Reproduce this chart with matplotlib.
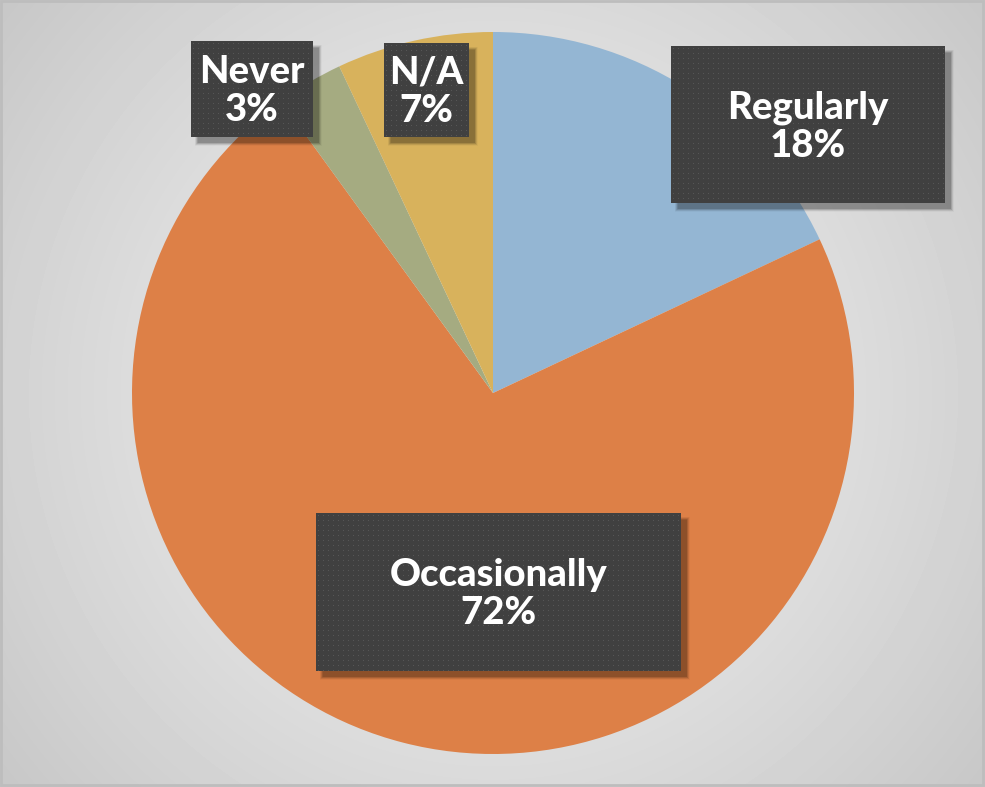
import matplotlib
matplotlib.use("Agg")
import matplotlib.pyplot as plt
import numpy as np
from matplotlib.patches import Rectangle

# survey answers, clockwise from 12 o'clock
labels = ["Regularly", "Occasionally", "Never", "N/A"]
shares = [18, 72, 3, 7]
colors = ["#94B6D3", "#DD8047", "#A5AB81", "#D8B25C"]

# label box spots in figure pixels: (left, top, right, bottom)
boxes = {
    "Regularly": (671, 46, 945, 203),
    "Occasionally": (316, 513, 681, 671),
    "Never": (191, 41, 313, 137),
    "N/A": (384, 43, 469, 137),
}

W, H = 985, 787
fig = plt.figure(figsize=(W / 100, H / 100), dpi=100)

# soft radial grey background
bg = fig.add_axes([0, 0, 1, 1])
yy, xx = np.mgrid[0:H, 0:W]
d = np.hypot(xx - 493, yy - 393) / 630.0
shade = 0.95 - 0.17 * d ** 1.2
bg.imshow(shade, cmap="gray", vmin=0, vmax=1, extent=(0, W, H, 0), aspect="auto")
bg.add_patch(Rectangle((1, 1), W - 3, H - 3, fill=False, ec="#bdbdbd", lw=2))
bg.set_xlim(0, W)
bg.set_ylim(H, 0)
bg.axis("off")

# pie: centre (493, 393), radius 361 px
cx, cy, r = 493, 393, 361
pie_ax = fig.add_axes([(cx - r) / W, (H - cy - r) / H, 2 * r / W, 2 * r / H])
pie_ax.pie(shares, colors=colors, startangle=90, counterclock=False,
           wedgeprops={"linewidth": 0})
pie_ax.set_xlim(-1, 1)
pie_ax.set_ylim(-1, 1)
pie_ax.set_aspect("equal")
pie_ax.axis("off")

# dark dotted label boxes with a drop shadow
ov = fig.add_axes([0, 0, 1, 1])
ov.set_xlim(0, W)
ov.set_ylim(H, 0)
ov.axis("off")
ov.patch.set_alpha(0)


def dotted(w, h):
    img = np.full((h, w, 3), 0x40 / 255.0)
    img[2::5, 2::5] = 0x56 / 255.0
    return img


total = sum(shares)
for name, val in zip(labels, shares):
    x0, y0, x1, y1 = boxes[name]
    for k, a in zip(range(7, 0, -1), [0.03, 0.04, 0.05, 0.06, 0.07, 0.08, 0.09]):
        ov.add_patch(Rectangle((x0 + 5 - k / 2 + 2, y0 + 5 - k / 2 + 2),
                               x1 - x0 + k - 2, y1 - y0 + k - 2,
                               fc="black", ec="none", alpha=a))
    ov.imshow(dotted(x1 - x0, y1 - y0), extent=(x0, x1, y1, y0),
              interpolation="nearest", zorder=3)
    pct = round(100 * val / total)
    ov.text((x0 + x1) / 2, (y0 + y1) / 2 + 2, f"{name}\n{pct}%",
            ha="center", va="center", color="white", fontsize=27.5,
            fontweight="black", family="Lato", linespacing=1.15, zorder=4)

ov.set_xlim(0, W)
ov.set_ylim(H, 0)
fig.savefig("out.png", dpi=100)
